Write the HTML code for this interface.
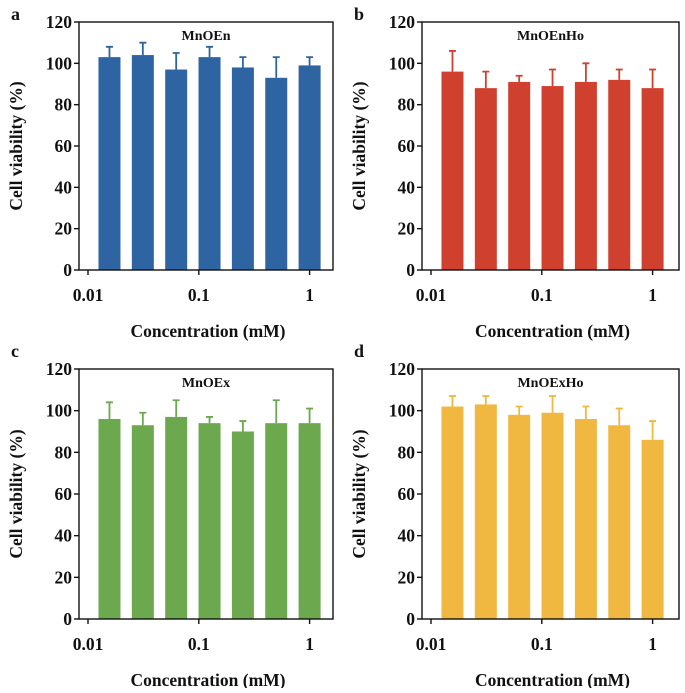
<!DOCTYPE html>
<html><head><meta charset="utf-8"><style>
body{margin:0;background:#fff;}
svg text{font-family:"Liberation Serif",serif;font-weight:bold;fill:#111;}
</style></head><body>
<svg id="fig" width="685" height="688" viewBox="0 0 685 688"></svg>
<script>
const concentrations=[0.015625,0.03125,0.0625,0.125,0.25,0.5,1];
const yTicks=[0,20,40,60,80,100,120];
const xTicks=[0.01,0.1,1];
const xTickLabels=["0.01","0.1","1"];
const valuesA=[103,104,97,103,98,93,99];
const errorTopA=[108,110,105,108,103,103,103];
const valuesB=[96,88,91,89,91,92,88];
const errorTopB=[106,96,94,97,100,97,97];
const valuesC=[96,93,97,94,90,94,94];
const errorTopC=[104,99,105,97,95,105,101];
const valuesD=[102,103,98,99,96,93,86];
const errorTopD=[107,107,102,107,102,101,95];
const panels=[
 {id:'a',title:'MnOEn',vals:valuesA,errs:errorTopA,color:'#2e64a1',L:79,T:22,R:333,B:270,x0:88,ly:20},
 {id:'b',title:'MnOEnHo',vals:valuesB,errs:errorTopB,color:'#d0402f',L:422,T:22,R:679,B:270,x0:431,ly:20},
 {id:'c',title:'MnOEx',vals:valuesC,errs:errorTopC,color:'#6ba84e',L:79,T:369,R:333,B:619,x0:88,ly:357},
 {id:'d',title:'MnOExHo',vals:valuesD,errs:errorTopD,color:'#f0b840',L:422,T:369,R:679,B:619,x0:431,ly:357}
];
const NS='http://www.w3.org/2000/svg';
const svg=document.getElementById('fig');
function mk(tag,attrs,parent,txt){const e=document.createElementNS(NS,tag);for(const k in attrs)e.setAttribute(k,attrs[k]);if(txt!==undefined)e.textContent=txt;parent.appendChild(e);return e;}
panels.forEach(p=>{
 const g=mk('g',{},svg);
 
 
 const dec=110.8;
 const xs=v=>p.x0+(Math.log10(v)+2)*dec;
 const ys=v=>p.B-(v/120)*(p.B-p.T);
 const lbl=mk('text',{x:p.L-68,y:p.ly,'font-size':18},g,p.id);
 
 
 p.vals.forEach((v,i)=>{
  const cx=xs(concentrations[i]);
  const bar=mk('rect',{x:cx-11,y:ys(v),width:22,height:p.B-ys(v),fill:p.color},g);
  
  
  const eb=mk('path',{d:`M${cx} ${ys(v)}V${ys(p.errs[i])}M${cx-3.5} ${ys(p.errs[i])}H${cx+3.5}`,stroke:p.color,'stroke-width':1.8,fill:'none'},g);
  
  
 });
 const frame=mk('rect',{x:p.L,y:p.T,width:p.R-p.L,height:p.B-p.T,fill:'none',stroke:'#111','stroke-width':1.4},g);
 
 
 yTicks.forEach(t=>{
  mk('line',{x1:p.L-5,x2:p.L,y1:ys(t),y2:ys(t),stroke:'#111','stroke-width':1.4},g);
  const tl=mk('text',{x:p.L-7,y:ys(t)+6,'font-size':17.5,'text-anchor':'end'},g,t);
  
  
 });
 xTicks.forEach((t,i)=>{
  mk('line',{x1:xs(t),x2:xs(t),y1:p.B,y2:p.B+5,stroke:'#111','stroke-width':1.4},g);
  const tl=mk('text',{x:xs(t),y:p.B+31,'font-size':17.5,'text-anchor':'middle'},g,xTickLabels[i]);
  
  
 });
 const tt=mk('text',{x:(p.L+p.R)/2,y:p.T+18,'font-size':14,'text-anchor':'middle'},g,p.title);
 
 
 const xt=mk('text',{x:(p.L+p.R)/2+2,y:p.B+67,'font-size':17.5,'text-anchor':'middle'},g,'Concentration (mM)');
 
 
 const cyy=(p.T+p.B)/2;
 const yt=mk('text',{x:p.L-57,y:cyy,'font-size':17.5,'text-anchor':'middle',transform:`rotate(-90 ${p.L-57} ${cyy})`},g,'Cell viability (%)');
 
 
});
</script>
</body></html>
